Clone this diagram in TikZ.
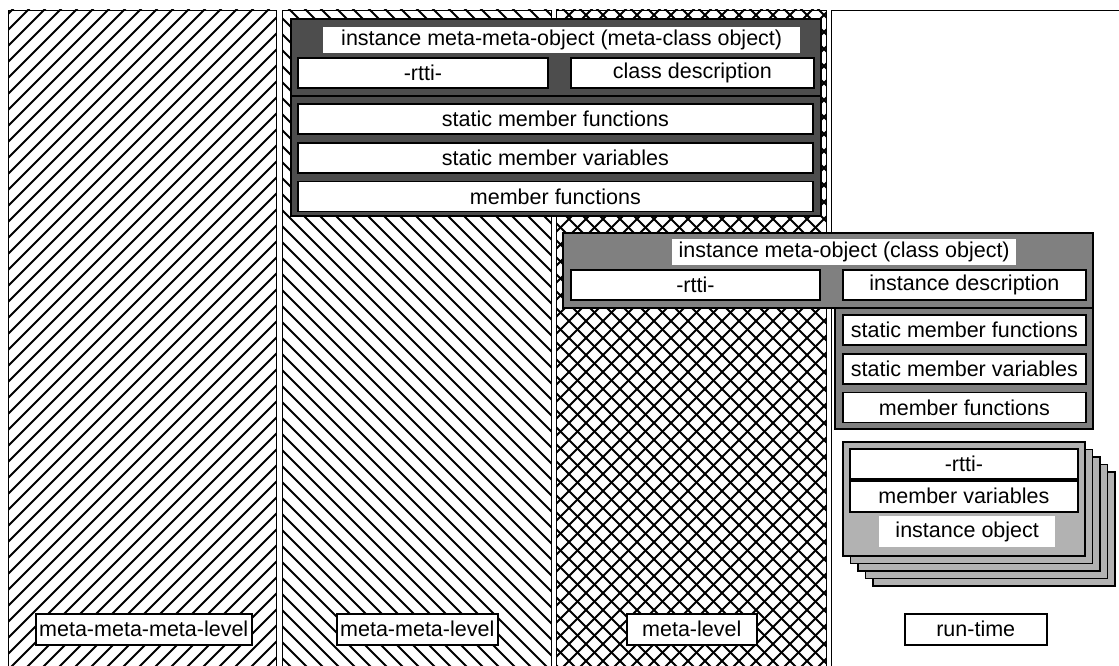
\documentclass[tikz,border=0pt]{standalone}
\usepackage{fontspec}
\setmainfont{Liberation Sans}
\usetikzlibrary{positioning}
\definecolor{darkbox}{RGB}{77,77,77}
\definecolor{midbox}{RGB}{128,128,128}
\definecolor{lightbox}{RGB}{178,178,178}
\newcommand{\lblfont}{\fontsize{21.5}{25}\selectfont}

\begin{document}
\begin{tikzpicture}[x=1pt, y=-1pt, node distance=7pt,
  lvl/.style={draw=black, line width=1.4pt, anchor=north west, inner sep=0pt,
              minimum height=700pt},
  hatch/.style={line width=2pt},
  grp/.style={draw=black, line width=1.8pt, anchor=north west, inner sep=0pt},
  slot/.style={draw=black, line width=1.8pt, fill=white, anchor=north west,
               inner sep=0pt, minimum height=30pt, font=\lblfont},
  ttl/.style={fill=white, anchor=north west, inner sep=0pt, minimum height=26pt,
              font=\lblfont},
  tag/.style={draw=black, line width=1.5pt, fill=white, anchor=north west,
              inner sep=0pt, minimum height=31pt, font=\lblfont}]

\useasboundingbox (0,0) rectangle (1119,666);
\clip (0,0) rectangle (1119,666);

% level hatching
\begin{scope}
  \clip (8,10) rectangle (276,710);
  \foreach \x in {-720,-704,...,290}
    \draw[hatch] (\x,710) -- ++(710,-710);
\end{scope}
\begin{scope}
  \clip (282,10) rectangle (551,710);
  \foreach \x in {-440,-424,...,560}
    \draw[hatch] (\x,0) -- ++(710,710);
\end{scope}
\begin{scope}
  \clip (556,10) rectangle (826,710);
  \foreach \x in {-160,-143,...,840} {
    \draw[hatch] (\x,0) -- ++(710,710);
    \draw[hatch] (\x,710) -- ++(710,-710);
  }
\end{scope}

% levels
\node[lvl, minimum width=268pt] (metaMetaMeta) at (8,10) {};
\node[lvl, minimum width=269pt] (metaMeta) at (282,10) {};
\node[lvl, minimum width=270pt] (meta) at (556,10) {};
\node[lvl, minimum width=300pt] (runTime) at (831,10) {};

% meta-class object
\node[grp, fill=darkbox, minimum width=530pt, minimum height=77pt] (mmo) at (290,18) {};
\node[grp, fill=darkbox, minimum width=530pt, minimum height=120pt] (mmoMembers) at (290,95) {};
\node[ttl, minimum width=477pt] (mmoTitle) at (323,27) {instance meta-meta-object (meta-class object)};
\node[slot, minimum width=250pt] (mmoRtti) at (297,57) {-rtti-};
\node[slot, minimum width=243pt] (mmoDesc) at (570,57) {class description};
\node[slot, minimum width=515pt] (mmoSmf) at (297,103) {static member functions};
\node[slot, minimum width=515pt, below=of mmoSmf] (mmoSmv) {static member variables};
\node[slot, minimum width=515pt, below=of mmoSmv] (mmoMf) {member functions};

% class object
\node[grp, fill=midbox, minimum width=530pt, minimum height=75pt] (mo) at (562,232) {};
\node[grp, fill=midbox, minimum width=258pt, minimum height=121pt] (moMembers) at (834,307) {};
\node[ttl, minimum width=344pt] (moTitle) at (672,239) {instance meta-object (class object)};
\node[slot, minimum width=249pt] (moRtti) at (570,269) {-rtti-};
\node[slot, minimum width=243pt] (moDesc) at (842,269) {instance description};
\node[slot, minimum width=243pt] (moSmf) at (842,314) {static member functions};
\node[slot, minimum width=243pt, below=of moSmf] (moSmv) {static member variables};
\node[slot, minimum width=243pt, below=of moSmv] (moMf) {member functions};

% instance objects
\foreach \k in {4,3,2,1}
  \node[grp, fill=lightbox, minimum width=242pt, minimum height=114pt] (io\k) at (842+7.5*\k,441+7.5*\k) {};
\node[grp, fill=lightbox, minimum width=242pt, minimum height=114pt] (io) at (842,441) {};
\node[slot, minimum width=228pt] (ioRtti) at (849,448) {-rtti-};
\node[slot, minimum width=228pt, minimum height=31pt, below=0pt of ioRtti] (ioVars) {member variables};
\node[ttl, minimum width=176pt, minimum height=31pt] (ioTitle) at (879,516) {instance object};

% level labels
\node[tag, minimum width=216pt] (lblMetaMetaMeta) at (35,613) {meta-meta-meta-level};
\node[tag, minimum width=161pt] (lblMetaMeta) at (336,613) {meta-meta-level};
\node[tag, minimum width=130pt] (lblMeta) at (626,613) {meta-level};
\node[tag, minimum width=142pt] (lblRunTime) at (904,613) {run-time};
\end{tikzpicture}
\end{document}
